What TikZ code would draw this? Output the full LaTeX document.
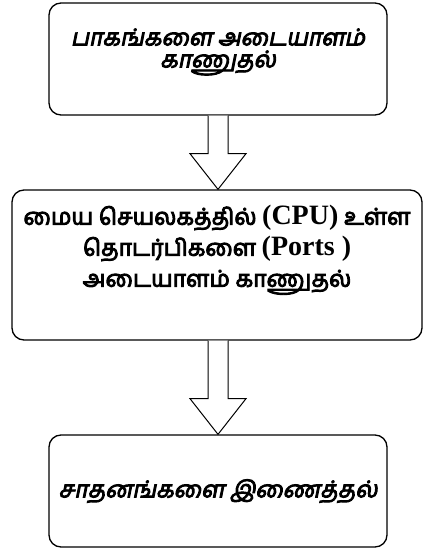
\documentclass[tikz,border=0pt]{standalone}
\usepackage{fontspec}
\newfontfamily\tamil[Script=Tamil,FakeBold=4]{Hind Madurai}
\newfontfamily\tamilsl[Script=Tamil,FakeSlant=0.2,FakeBold=4]{Hind Madurai}
\newfontfamily\lat{Liberation Serif Bold}
\usetikzlibrary{calc}
\begin{document}
\begin{tikzpicture}[x=1pt,y=1pt,
  box/.style={draw,line width=1.3pt,rounded corners=12pt,inner sep=0pt},
  txt/.style={inner sep=0pt,align=center},
  latin/.style={},
  barrow/.style={draw,line width=1pt,fill=white,line join=miter}]
\useasboundingbox (0,0) rectangle (423,550);
\node[box,minimum width=338pt,minimum height=112pt] (b1) at (218,491) {};
\node[txt,font=\tamilsl\fontsize{23}{22}\selectfont] (t1) at ($(b1.center)+(0,7)$)
  {பாகங்களை அடையாளம்\\காணுதல்};
\node[box,minimum width=410pt,minimum height=150pt] (b2) at (217,285) {};
\node[txt,font=\tamil\fontsize{23}{31}\selectfont] (t2) at ($(b2.center)+(0,15)$)
  {மைய செயலகத்தில் {\lat\fontsize{28}{31}\selectfont (CPU)} உள்ள\\
   தொடர்பிகளை {\lat\fontsize{28}{31}\selectfont (Ports )}\\
   அடையாளம் காணுதல்};
\node[box,minimum width=338pt,minimum height=112pt] (b3) at (218,59) {};
\node[txt,font=\tamilsl\fontsize{23}{24}\selectfont] (t3) at (b3.center)
  {சாதனங்களை இணைத்தல்};
\draw[barrow] ($(b1.south)+(-10,0)$) -- ++(0,-38) -- ++(-18,0) -- ($(b2.north -| b1.south)$)
  -- ($(b1.south)+(28,-38)$) -- ++(-18,0) -- ($(b1.south)+(10,0)$);
\draw[barrow] ($(b2.south -| b3.north)+(-10,0)$) -- ++(0,-58) -- ++(-18,0) -- (b3.north)
  -- ($(b2.south -| b3.north)+(28,-58)$) -- ++(-18,0) -- ($(b2.south -| b3.north)+(10,0)$);
\end{tikzpicture}
\end{document}
